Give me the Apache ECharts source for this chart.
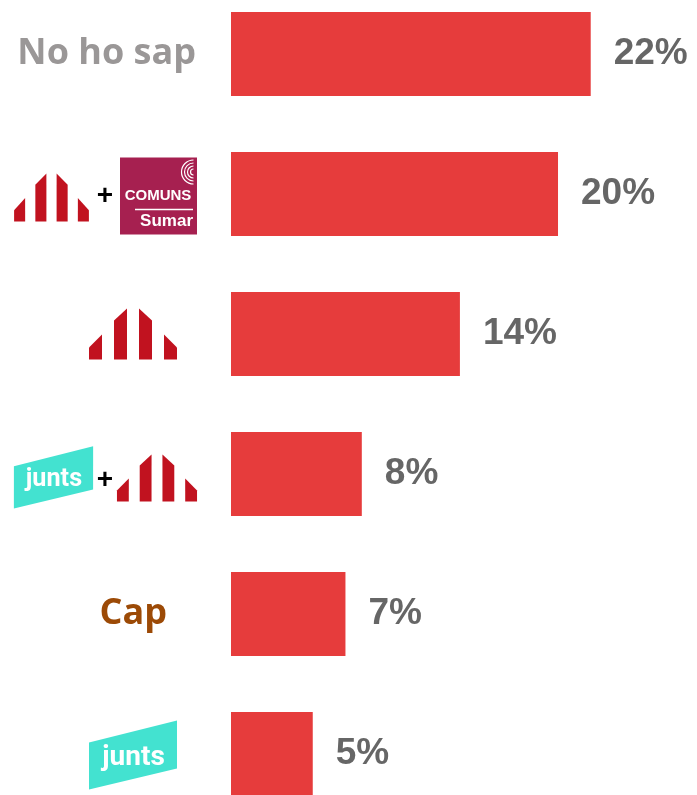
<!DOCTYPE html>
<html>
<head>
<meta charset="utf-8">
<script src="https://cdn.jsdelivr.net/npm/echarts@6/dist/echarts.min.js"></script>
<style>
  html, body { margin: 0; padding: 0; background: #fff; overflow: hidden; }
  /* chart is taller than the window so the rows land 140px apart */
  #chart { width: 697px; height: 840px; margin-top: -16px; }
</style>
</head>
<body>
<div id="chart"></div>
<script>
// data
const categories = ['No ho sap', 'PSC + Comuns Sumar', 'PSC', 'Junts + PSC', 'Cap', 'Junts'];
const values = [22, 20, 14, 8, 7, 5];

const BAR_RED = '#e63c3c';
const PSC_RED = '#c1121f';
const JUNTS = '#43e2d0';
const COMUNS = '#a62050';

const chart = echarts.init(document.getElementById('chart'));

chart.setOption({
  animation: false,
  backgroundColor: '#fff',
  grid: { left: 231, right: 0, top: 0, bottom: 0 },
  xAxis: { type: 'value', min: 0, max: 28.5, show: false },
  yAxis: {
    type: 'category',
    inverse: true,
    data: categories,
    axisLine: { show: false },
    axisTick: { show: false },
    splitLine: { show: false },
    axisLabel: {
      margin: 35,
      formatter: function (v) {
        if (v === 'No ho sap') return '{nhs|No ho sap}';
        if (v === 'Cap') return '{cap|Cap}';
        return ''; // logos drawn with graphic below
      },
      rich: {
        nhs: { fontFamily: 'Open Sans', fontWeight: 'bold', fontSize: 36, color: '#9a9797' },
        cap: { fontFamily: 'Open Sans', fontWeight: 'bold', fontSize: 36, color: '#9c4a06', padding: [0, 29, 0, 0] }
      }
    }
  },
  series: [{
    type: 'bar',
    data: values,
    barWidth: 84,
    itemStyle: { color: BAR_RED },
    label: {
      show: true,
      position: 'right',
      distance: 23,
      formatter: '{c}%',
      fontFamily: 'Liberation Sans',
      fontWeight: 'bold',
      fontSize: 37,
      color: '#666'
    }
  }]
});

// PSC logo: four stripes with a pointed roof, centred on 0,0 (88 x 51)
function pscLogo(x, y, sx, sy) {
  const stripes = [
    [[-44, 13.5], [-31, 0.5], [-31, 25.5], [-44, 25.5]],
    [[-19, -13.5], [-6, -25.5], [-6, 25.5], [-19, 25.5]],
    [[6, -25.5], [19, -13.5], [19, 25.5], [6, 25.5]],
    [[31, 0.5], [44, 13.5], [44, 25.5], [31, 25.5]]
  ];
  return {
    type: 'group', x: x, y: y, scaleX: sx, scaleY: sy,
    children: stripes.map(p => ({ type: 'polygon', shape: { points: p }, style: { fill: PSC_RED } }))
  };
}

// Junts logo: slanted turquoise band with "junts"
function juntsLogo(x, y, s) {
  return {
    type: 'group', x: x, y: y, scaleX: s, scaleY: s,
    children: [
      { type: 'polygon', shape: { points: [[-44, -11.5], [44, -33.5], [44, 14.5], [-44, 35.5]] }, style: { fill: JUNTS } },
      {
        type: 'text',
        style: {
          text: 'junts', x: 0.5, y: 4, fill: '#fff',
          font: 'bold 28px Roboto', align: 'center', verticalAlign: 'middle',
          textAlign: 'center', textVerticalAlign: 'middle'
        }
      }
    ]
  };
}

// Comuns Sumar logo: square with two words and rings
function comunsLogo(x, y) {
  const kids = [
    { type: 'rect', shape: { x: -38.5, y: -38.5, width: 77, height: 77 }, style: { fill: COMUNS } },
    {
      type: 'text',
      style: {
        text: 'COMUNS', x: -0.5, y: 0, fill: '#fff', font: 'bold 15px "Liberation Sans"',
        align: 'center', verticalAlign: 'middle', textAlign: 'center', textVerticalAlign: 'middle'
      }
    },
    { type: 'line', shape: { x1: -23.5, y1: 13.5, x2: 34.5, y2: 13.5 }, style: { stroke: '#fff', lineWidth: 1.5 } },
    {
      type: 'text',
      style: {
        text: 'Sumar', x: 34.5, y: 25, fill: '#fff', font: 'bold 17px "Liberation Sans"',
        align: 'right', verticalAlign: 'middle', textAlign: 'right', textVerticalAlign: 'middle'
      }
    }
  ];
  [3, 6, 9, 12].forEach(r => {
    kids.push({
      type: 'arc',
      shape: { cx: 35, cy: -24, r: r, startAngle: Math.PI * 0.5, endAngle: Math.PI * 1.5, clockwise: true },
      style: { stroke: '#fff', lineWidth: 1.2, fill: null }
    });
  });
  return { type: 'group', x: x, y: y, children: kids };
}

function plusSign(x, y) {
  return {
    type: 'text',
    style: {
      text: '+', x: x, y: y, fill: '#000', font: 'bold 28px "Liberation Sans"',
      align: 'center', verticalAlign: 'middle', textAlign: 'center', textVerticalAlign: 'middle'
    }
  };
}

// place logos on the category rows
const rowY = name => chart.convertToPixel({ yAxisIndex: 0 }, name);

chart.setOption({
  graphic: [
    pscLogo(51.5, rowY('PSC + Comuns Sumar') + 3.5, 0.85, 0.94),
    plusSign(105, rowY('PSC + Comuns Sumar') + 2),
    comunsLogo(158.5, rowY('PSC + Comuns Sumar') + 2),
    pscLogo(133, rowY('PSC'), 1, 1),
    juntsLogo(53.5, rowY('Junts + PSC') + 2.5, 0.9),
    plusSign(105, rowY('Junts + PSC') + 6),
    pscLogo(157, rowY('Junts + PSC') + 4, 0.91, 0.92),
    juntsLogo(133, rowY('Junts'), 1)
  ]
});
</script>
</body>
</html>
